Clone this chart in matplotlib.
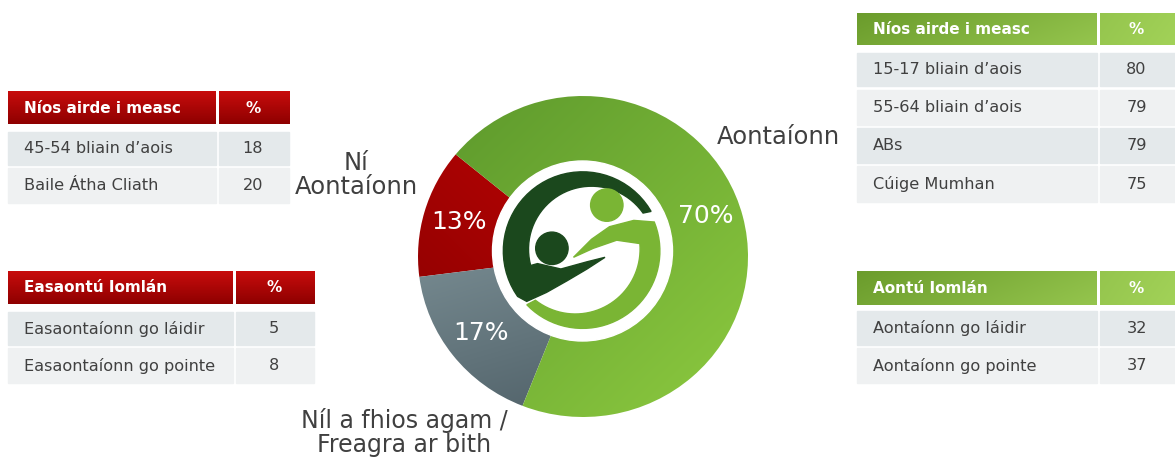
import numpy as np
import matplotlib
matplotlib.use('Agg')
import matplotlib.pyplot as plt
from matplotlib.patches import Rectangle, Circle, Polygon
from matplotlib.colors import to_rgb

plt.rcParams['font.family'] = ['DejaVu Sans']

# --- data ---
categories = ['Ní\nAontaíonn', 'Níl a fhios agam /\nFreagra ar bith', 'Aontaíonn']
shares = [13, 17, 70]

red_top_header = ['Níos airde i measc', '%']
red_top_rows = ['45-54 bliain d’aois', 'Baile Átha Cliath']
red_top_vals = [18, 20]

red_bot_header = ['Easaontú Iomlán', '%']
red_bot_rows = ['Easaontaíonn go láidir', 'Easaontaíonn go pointe']
red_bot_vals = [5, 8]

green_top_header = ['Níos airde i measc', '%']
green_top_rows = ['15-17 bliain d’aois', '55-64 bliain d’aois', 'ABs', 'Cúige Mumhan']
green_top_vals = [80, 79, 79, 75]

green_bot_header = ['Aontú Iomlán', '%']
green_bot_rows = ['Aontaíonn go láidir', 'Aontaíonn go pointe']
green_bot_vals = [32, 37]

W, H = 1175, 461
TXT = '#404040'

fig = plt.figure(figsize=(W / 100, H / 100), dpi=100)
fig.patch.set_facecolor('white')


def grad_img(c0, c1, direction, n=64):
    # 2d gradient image from c0 to c1 along direction (dx, dy), rows go top->bottom
    xs = np.linspace(0, 1, n)
    X, Y = np.meshgrid(xs, xs)
    dx, dy = direction
    t = dx * X + dy * Y
    t = (t - t.min()) / (t.max() - t.min())
    a, b = np.array(to_rgb(c0)), np.array(to_rgb(c1))
    return a + (b - a) * t[..., None]


def arc(cx, cy, r, a0, a1, n=40):
    return [(cx + r * np.cos(a), cy + r * np.sin(a)) for a in np.radians(np.linspace(a0, a1, n))]


# --- donut ---
ax_pie = fig.add_axes([418 / W, (H - 417) / H, 330 / W, 321 / H], zorder=1)
wedges, _, autotexts = ax_pie.pie(
    shares, startangle=140.5, counterclock=True,
    autopct=lambda p: f'{p:.0f}%', pctdistance=0.78,
    textprops=dict(color='white', fontsize=18))
wedge_grads = [('#d40606', '#840000', (-1, 1)),
               ('#96acb1', '#46565e', (0.3, 1)),
               ('#5a962b', '#8ecb40', (1, 1))]
for w, (c0, c1, d) in zip(wedges, wedge_grads):
    w.set_facecolor('none')
    w.set_edgecolor('none')
    im = ax_pie.imshow(grad_img(c0, c1, d), extent=[-1.05, 1.05, -1.05, 1.05],
                       aspect='auto', zorder=0.5, interpolation='bilinear')
    im.set_clip_path(w)
autotexts[2].set_position((0.745, 0.25))
for t in autotexts:
    t.set_zorder(3)
ax_pie.set_aspect('auto')
ax_pie.set_xlim(-1, 1)
ax_pie.set_ylim(-1, 1)
ax_pie.axis('off')

# --- logo in the hole (1 unit = 90 px) ---
ax_logo = fig.add_axes([(582.5 - 99) / W, (H - 251 - 99) / H, 198 / W, 198 / H], zorder=2)
ax_logo.set_xlim(-1.1, 1.1)
ax_logo.set_ylim(-1.1, 1.1)
ax_logo.axis('off')
dark = '#1b481d'
light = '#7ab534'
ax_logo.add_patch(Circle((0, 0), 1.0, color='white'))

cup = [(-0.62, -0.56), (-0.4, -0.46), (-0.17, -0.33), (0.05, -0.2), (0.25, -0.07),
       (0.05, -0.12), (-0.24, -0.2), (-0.5, -0.14)]
ax_logo.add_patch(Polygon(arc(0, 0, 0.88, 30, 215) + cup + arc(0.1, 0.02, 0.7, 195, 35),
                          closed=True, color=dark))
ax_logo.add_patch(Circle((-0.34, 0.03), 0.18, color=dark))
ax_logo.add_patch(Circle((0.27, 0.51), 0.18, color=light))
arm = [(0.57, 0.34), (0.3, 0.27), (0.1, 0.13), (-0.1, -0.07), (0.12, 0.03), (0.38, 0.12)]
ax_logo.add_patch(Polygon(arc(0, 0, 0.86, -136, 22) + arm + arc(-0.08, 0.02, 0.72, 5, -128),
                          closed=True, color=light))

# --- overlay for tables and labels (pixel coords) ---
ax = fig.add_axes([0, 0, 1, 1], zorder=3)
ax.set_xlim(0, W)
ax.set_ylim(H, 0)
ax.axis('off')


def grad_rect(x0, x1, y0, y1, c0, c1, d):
    ax.imshow(grad_img(c0, c1, d), extent=[x0, x1, y1, y0], aspect='auto',
              interpolation='bilinear', zorder=1)


def draw_table(header, rows, vals, x0, xd, x1, hy, row_y, hcols, row_cols):
    g = 3
    (ca, cb), d = hcols
    mid = np.array(to_rgb(ca)) + (np.array(to_rgb(cb)) - np.array(to_rgb(ca))) * (xd - x0) / (x1 - x0)
    if d[0] != 0:
        grad_rect(x0, xd - g / 2, hy[0], hy[1], ca, mid, d)
        grad_rect(xd + g / 2, x1, hy[0], hy[1], mid, cb, d)
    else:
        grad_rect(x0, xd - g / 2, hy[0], hy[1], ca, cb, d)
        grad_rect(xd + g / 2, x1, hy[0], hy[1], ca, cb, d)
    hc = (hy[0] + hy[1]) / 2
    ax.text(x0 + 16, hc, header[0], color='white', fontsize=11, fontweight='bold',
            va='center', ha='left', zorder=2)
    ax.text((xd + x1) / 2, hc, header[1], color='white', fontsize=11, fontweight='bold',
            va='center', ha='center', zorder=2)
    for i, (lab, v) in enumerate(zip(rows, vals)):
        y0, y1 = row_y[i]
        col = row_cols[i % 2]
        ax.add_patch(Rectangle((x0, y0), xd - g / 2 - x0, y1 - y0, color=col, zorder=1))
        ax.add_patch(Rectangle((xd + g / 2, y0), x1 - xd - g / 2, y1 - y0, color=col, zorder=1))
        yc = (y0 + y1) / 2
        ax.text(x0 + 16, yc, lab, color=TXT, fontsize=11.6, va='center', ha='left', zorder=2)
        ax.text((xd + x1) / 2, yc, str(v), color=TXT, fontsize=11.6, va='center', ha='center', zorder=2)


red_h = (('#c80c0c', '#8e0000'), (0, 1))
green_h = (('#6b9c2c', '#a2d258'), (1, 0.3))
row_cols = ['#e4e9eb', '#eff1f2']

draw_table(red_top_header, red_top_rows, red_top_vals, 8, 217, 289, (92, 124),
           [(132, 165), (168, 203)], red_h, row_cols)
draw_table(red_bot_header, red_bot_rows, red_bot_vals, 8, 234, 314, (271, 304),
           [(312, 345), (348, 383)], red_h, row_cols)
draw_table(green_top_header, green_top_rows, green_top_vals, 857, 1098, 1175, (13, 45),
           [(53, 86), (90, 125), (128, 163), (166, 202)], green_h, row_cols)
draw_table(green_bot_header, green_bot_rows, green_bot_vals, 857, 1098, 1175, (271, 305),
           [(311, 345), (348, 383)], green_h, row_cols)

# category labels around the donut
ax.text(356, 175, categories[0], color=TXT, fontsize=17.5, ha='center', va='center',
        multialignment='center', linespacing=1.0)
ax.text(404, 432, categories[1], color=TXT, fontsize=17, ha='center', va='center',
        multialignment='center', linespacing=1.0)
ax.text(778, 137, categories[2], color=TXT, fontsize=17.5, ha='center', va='center')

plt.savefig('out.png', dpi=100)
